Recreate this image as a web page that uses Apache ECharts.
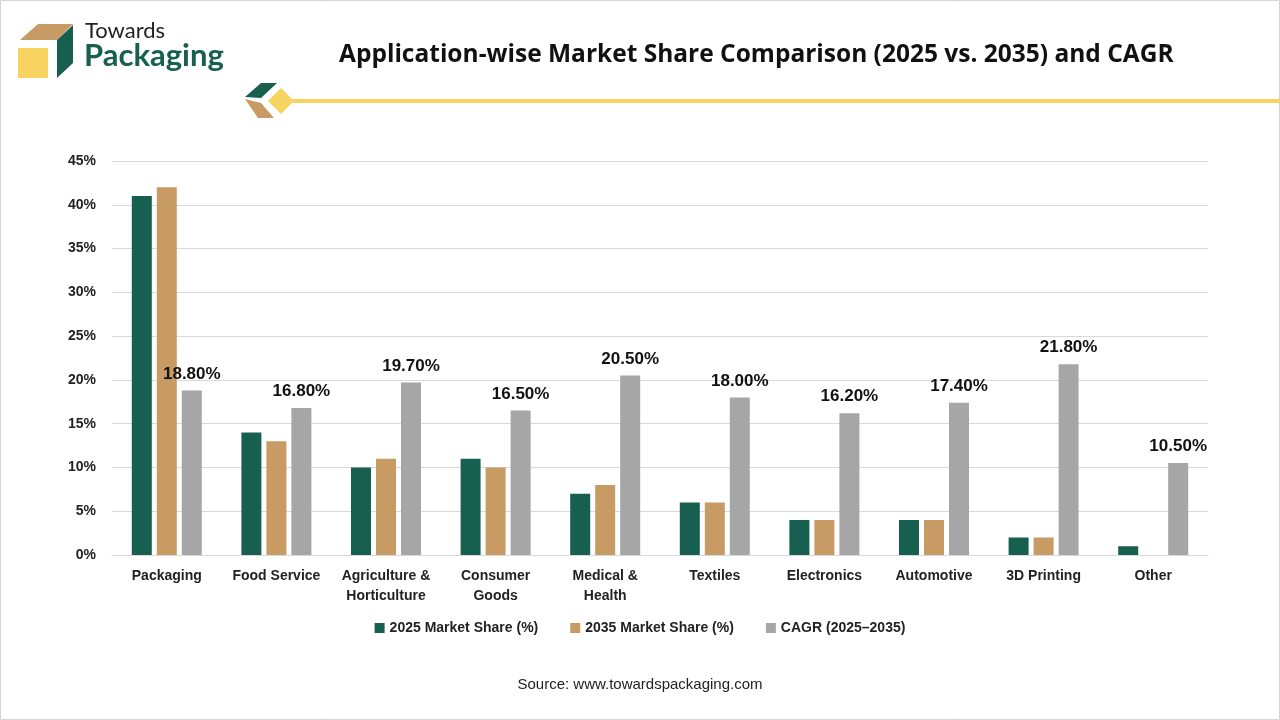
<!DOCTYPE html>
<html lang="en">
<head>
    <meta charset="UTF-8">
    <title>Application-wise Market Share Comparison</title>
    <script src="https://cdn.jsdelivr.net/npm/echarts@6/dist/echarts.min.js"></script>
    <style>
        html, body { margin: 0; padding: 0; background: #fff; }
        #chart { width: 1280px; height: 720px; }
    </style>
</head>
<body>
    <div id="chart"></div>
    <script>
        const categories = ['Packaging', 'Food Service', 'Agriculture &\nHorticulture', 'Consumer\nGoods',
            'Medical &\nHealth', 'Textiles', 'Electronics', 'Automotive', '3D Printing', 'Other'];
        const share2025 = [41, 14, 10, 11, 7, 6, 4, 4, 2, 1];
        const share2035 = [42, 13, 11, 10, 8, 6, 4, 4, 2, 0];
        const cagr = [18.8, 16.8, 19.7, 16.5, 20.5, 18.0, 16.2, 17.4, 21.8, 10.5];

        const green = '#17604f';
        const tan = '#c89a64';
        const grey = '#a6a6a6';
        const yellow = '#f7d462';
        const font = '"Liberation Sans", Arial, sans-serif';

        const chart = echarts.init(document.getElementById('chart'));
        const option = {
            animation: false,
            textStyle: { fontFamily: font },
            title: {
                text: 'Application-wise Market Share Comparison (2025 vs. 2035) and CAGR',
                left: 334,
                top: 38,
                textStyle: { fontFamily: '"Open Sans", sans-serif', fontSize: 24.5, fontWeight: 'bold', color: '#111' }
            },
            legend: {
                data: ['2025 Market Share (%)', '2035 Market Share (%)', 'CAGR (2025\u20132035)'],
                left: 'center',
                top: 616,
                itemWidth: 10,
                itemHeight: 10,
                itemGap: 32,
                icon: 'rect',
                textStyle: { fontFamily: font, fontSize: 14, fontWeight: 'bold', color: '#222' }
            },
            grid: { left: 112, right: 72, top: 161, bottom: 165 },
            xAxis: {
                type: 'category',
                data: categories,
                axisTick: { show: false },
                axisLine: { lineStyle: { color: '#d9d9d9' } },
                axisLabel: {
                    interval: 0,
                    margin: 11,
                    lineHeight: 20,
                    fontSize: 14,
                    fontWeight: 'bold',
                    color: '#222'
                }
            },
            yAxis: {
                type: 'value',
                min: 0,
                max: 45,
                interval: 5,
                axisLabel: {
                    formatter: '{value}%',
                    fontSize: 14,
                    fontWeight: 'bold',
                    color: '#222',
                    margin: 16
                },
                axisLine: { show: false },
                axisTick: { show: false },
                splitLine: { lineStyle: { color: '#d9d9d9' } }
            },
            series: [
                {
                    name: '2025 Market Share (%)',
                    type: 'bar',
                    data: share2025,
                    barWidth: 20,
                    barGap: '25%',
                    itemStyle: { color: green }
                },
                {
                    name: '2035 Market Share (%)',
                    type: 'bar',
                    data: share2035,
                    barWidth: 20,
                    barGap: '25%',
                    itemStyle: { color: tan }
                },
                {
                    name: 'CAGR (2025\u20132035)',
                    type: 'bar',
                    data: cagr,
                    barWidth: 20,
                    barGap: '25%',
                    itemStyle: { color: grey },
                    label: {
                        show: true,
                        position: 'top',
                        distance: 8,
                        formatter: p => p.value.toFixed(2) + '%',
                        fontSize: 17,
                        fontWeight: 'bold',
                        color: '#111'
                    }
                }
            ],
            graphic: [
                // outer frame
                { type: 'rect', shape: { x: 0.5, y: 0.5, width: 1279, height: 719 },
                  style: { fill: 'none', stroke: '#d4d4d4', lineWidth: 1 }, silent: true },
                // logo cube
                { type: 'polygon', shape: { points: [[20, 40], [38, 24], [73, 24], [57, 40]] }, style: { fill: tan } },
                { type: 'polygon', shape: { points: [[57, 40], [73, 25], [73, 63], [57, 78]] }, style: { fill: green } },
                { type: 'rect', shape: { x: 18, y: 48, width: 30, height: 30 }, style: { fill: yellow } },
                { type: 'text', left: 85, top: 20,
                  style: { text: 'Towards', fontFamily: 'Lato, sans-serif', fontSize: 22, fill: '#222' } },
                { type: 'text', left: 84, top: 40,
                  style: { text: 'Packaging', fontFamily: 'Lato, sans-serif', fontSize: 31, fontWeight: 'bold', fill: green } },
                // header divider icon
                { type: 'polygon', shape: { points: [[245, 97], [261, 83], [277, 83], [261, 98]] }, style: { fill: green } },
                { type: 'polygon', shape: { points: [[245, 99], [261, 103], [274, 118], [258, 118]] }, style: { fill: tan } },
                { type: 'line', shape: { x1: 292, y1: 101, x2: 1280, y2: 101 }, style: { stroke: yellow, lineWidth: 4 } },
                { type: 'polygon', shape: { points: [[281, 88], [294, 101], [281, 114], [268, 101]] }, style: { fill: yellow } },
                // source
                { type: 'text', left: 'center', top: 677,
                  style: { text: 'Source: www.towardspackaging.com', fontFamily: font, fontSize: 15, fill: '#222' } }
            ]
        };
        chart.setOption(option);
    </script>
</body>
</html>
